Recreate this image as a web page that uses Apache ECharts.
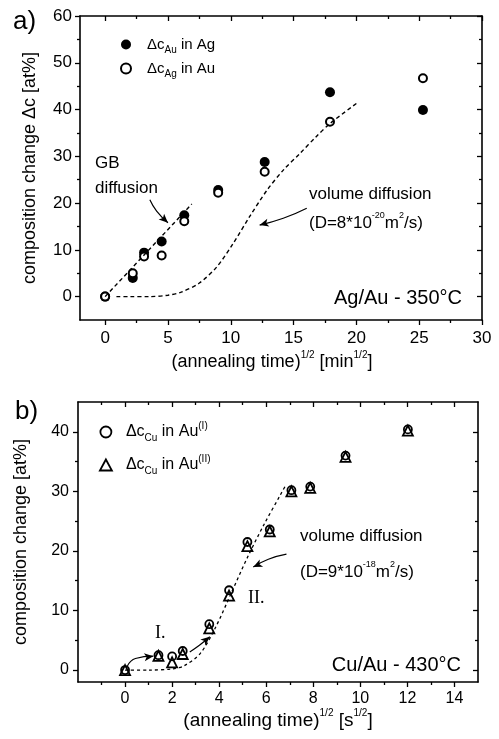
<!DOCTYPE html>
<html><head><meta charset="utf-8">
<script src="https://cdn.jsdelivr.net/npm/echarts@6/dist/echarts.min.js"></script>
<style>html,body{margin:0;padding:0;background:#fff}#c{width:499px;height:739px}</style>
</head><body><div id="c"></div>
<script>
// ---------- Panel a) Ag/Au - 350°C ----------
const aTime    = [0, 2.2, 3.1, 4.5, 6.3, 9.0, 12.7, 17.9, 25.3];
const aAuInAg  = [0, 4.0, 9.4, 11.8, 17.4, 22.8, 28.8, 43.7, 39.9];
const aAgInAu  = [0, 5.0, 8.6, 8.8, 16.1, 22.2, 26.7, 37.4, 46.7];
const aGBX     = [0, 6.9];
const aGBY     = [0, 19.8];
const aVolX    = [0.9, 2, 3.5, 5, 6, 7.5, 8.9, 10.2, 11.5, 12.9, 14.2, 15.5, 16.8, 17.9, 20.0];
const aVolY    = [0, 0, 0, 0.3, 0.9, 2.9, 6.4, 11.4, 17.1, 22.8, 27.1, 30.6, 34.2, 37.0, 41.3];
const aGBArrow  = [[3.56, 20.7], [4.1, 18.3], [5.0, 15.8]];
const aVolArrow = [[16.05, 18.9], [14.18, 16.75], [12.3, 15.3]];
const aXTicks = [0, 5, 10, 15, 20, 25, 30];
const aXMinor = [2.5, 7.5, 12.5, 17.5, 22.5, 27.5];
const aYTicks = [0, 10, 20, 30, 40, 50, 60];
const aYMinor = [5, 15, 25, 35, 45, 55];

// ---------- Panel b) Cu/Au - 430°C ----------
const bTime    = [0, 1.42, 2.0, 2.45, 3.58, 4.42, 5.2, 6.15, 7.07, 7.87, 9.37, 12.02];
const bCuAuI   = [0, 2.5, 2.3, 3.2, 7.7, 13.4, 21.5, 23.6, 30.2, 30.8, 36.0, 40.4];
const bCuAuII  = [0, 2.4, 1.3, 2.7, 7.0, 12.5, 20.8, 23.3, 30.0, 30.6, 35.8, 40.2];
const bVolX    = [0, 1, 2, 2.5, 3.2, 3.85, 4.5, 5.2, 5.9, 6.6, 6.85];
const bVolY    = [0, 0, 0.2, 0.7, 2.8, 7.2, 12.8, 18.9, 24.4, 29.4, 31.2];
const bArrowI1 = [[0.1, 0.7], [0.44, 1.95], [1.2, 2.33]];
const bArrowI2 = [[2.75, 3.05], [3.16, 4.17], [3.6, 5.6]];
const bVolArrow = [[6.86, 19.45], [6.09, 18.6], [5.45, 17.3]];
const bXTicks = [0, 2, 4, 6, 8, 10, 12, 14];
const bXMinor = [-1, 1, 3, 5, 7, 9, 11, 13];
const bYTicks = [0, 10, 20, 30, 40];
const bYMinor = [5, 15, 25, 35];

const FONT = "'Liberation Sans', Arial, Helvetica, sans-serif";
const BLACK = '#000';

function rich(size, small) {
  return {
    m: {fontFamily: FONT, fontSize: size, lineHeight: size + 6, color: BLACK},
    s: {fontFamily: FONT, fontSize: small, lineHeight: small + 1, verticalAlign: 'top', color: BLACK},
    b: {fontFamily: FONT, fontSize: small, lineHeight: small + 1, verticalAlign: 'bottom', color: BLACK}
  };
}

function makeAxes(kind, gi, min, max, major, minor, labelOpt, nameOpt) {
  const posMain = kind === 'x' ? 'bottom' : 'left';
  const posOpp = kind === 'x' ? 'top' : 'right';
  const base = {type: 'value', gridIndex: gi, min: min, max: max, splitLine: {show: false}};
  const tickStyle = {color: BLACK, width: 1.3};
  const lineStyle = {color: BLACK, width: 1.6};
  return [
    Object.assign({}, base, nameOpt, {
      position: posMain,
      axisLine: {show: true, onZero: false, lineStyle: lineStyle},
      axisTick: {show: true, inside: false, length: 5, customValues: major, lineStyle: tickStyle},
      axisLabel: Object.assign({show: true, customValues: major, color: BLACK, fontFamily: FONT}, labelOpt)
    }),
    Object.assign({}, base, {
      position: posMain,
      axisLine: {show: false, onZero: false},
      axisTick: {show: true, inside: false, length: 3, customValues: minor, lineStyle: tickStyle},
      axisLabel: {show: false}
    }),
    Object.assign({}, base, {
      position: posOpp,
      axisLine: {show: true, onZero: false, lineStyle: lineStyle},
      axisTick: {show: true, inside: true, length: 5, customValues: major, lineStyle: tickStyle},
      axisLabel: {show: false}
    }),
    Object.assign({}, base, {
      position: posOpp,
      axisLine: {show: false, onZero: false},
      axisTick: {show: true, inside: true, length: 3, customValues: minor, lineStyle: tickStyle},
      axisLabel: {show: false}
    })
  ];
}

const zip = (xs, ys) => xs.map((x, i) => [x, ys[i]]);

function arrowSeries(pts, xi, yi, rot) {
  return {
    type: 'line', xAxisIndex: xi, yAxisIndex: yi, smooth: 0.5,
    symbol: 'none', showSymbol: true, silent: true,
    lineStyle: {color: BLACK, width: 1.2},
    data: pts.map((p, i) => i === pts.length - 1
      ? {value: p, symbol: 'arrow', symbolSize: [6, 9], symbolRotate: rot, itemStyle: {color: BLACK, opacity: 1}}
      : {value: p})
  };
}

function txt(x, y, text, size, extra) {
  return {type: 'text', x: x, y: y, z: 100, silent: true,
    style: Object.assign({text: text, fontFamily: FONT, fontSize: size, fill: BLACK,
      align: 'left', verticalAlign: 'middle'}, extra || {})};
}

const names = {
  aAu: '{m|\u0394c}{b|Au}{m| in Ag}',
  aAg: '{m|\u0394c}{b|Ag}{m| in Au}',
  bI: '{m|\u0394c}{b|Cu}{m| in Au}{s|(I)}',
  bII: '{m|\u0394c}{b|Cu}{m| in Au}{s|(II)}'
};

const xA = makeAxes('x', 0, -2, 30, aXTicks, aXMinor, {fontSize: 17, margin: 10}, {
  name: '{m|(annealing time)}{s|1/2}{m| [min}{s|1/2}{m|]}', nameLocation: 'middle', nameGap: 30,
  nameTextStyle: {padding: [0, 18, 0, 0], rich: rich(18, 10)}
});
const yA = makeAxes('y', 0, -5, 60, aYTicks, aYMinor, {fontSize: 17, margin: 8}, {
  name: 'composition change \u0394c [at%]', nameLocation: 'middle', nameRotate: 90, nameGap: 41,
  nameTextStyle: {fontFamily: FONT, fontSize: 18, color: BLACK}
});
const xB = makeAxes('x', 1, -2, 15, bXTicks, bXMinor, {fontSize: 16, margin: 9}, {
  name: '{m|(annealing time)}{s|1/2}{m| [s}{s|1/2}{m|]}', nameLocation: 'middle', nameGap: 26,
  nameTextStyle: {rich: rich(19, 10)}
});
const yB = makeAxes('y', 1, -2, 45, bYTicks, bYMinor, {fontSize: 16, margin: 9}, {
  name: 'composition change [at%]', nameLocation: 'middle', nameRotate: 90, nameGap: 48,
  nameTextStyle: {fontFamily: FONT, fontSize: 18, color: BLACK}
});

const option = {
  animation: false,
  backgroundColor: '#fff',
  grid: [
    {left: 80, top: 16, width: 402, height: 304},
    {left: 78, top: 402, width: 400, height: 280}
  ],
  xAxis: xA.concat(xB),
  yAxis: yA.concat(yB),
  legend: [
    {
      orient: 'vertical', left: 115, top: 32, itemWidth: 10, itemHeight: 10, itemGap: 6,
      selectedMode: false,
      data: [
        {name: 'aAu', icon: 'circle', itemStyle: {color: BLACK, borderWidth: 0, opacity: 1}},
        {name: 'aAg', icon: 'circle', itemStyle: {color: '#fff', borderColor: BLACK, borderWidth: 2, opacity: 1}}
      ],
      formatter: n => names[n],
      textStyle: {padding: [0, 0, 0, 11], rich: rich(15, 10)}
    },
    {
      orient: 'vertical', left: 94, top: 416, itemWidth: 12, itemHeight: 11, itemGap: 11,
      selectedMode: false,
      data: [
        {name: 'bI', icon: 'circle', itemStyle: {color: 'rgba(0,0,0,0)', borderColor: BLACK, borderWidth: 1.8, opacity: 1}},
        {name: 'bII', icon: 'triangle', itemStyle: {color: 'rgba(0,0,0,0)', borderColor: BLACK, borderWidth: 1.8, opacity: 1}}
      ],
      formatter: n => names[n],
      textStyle: {padding: [0, 0, 0, 9], rich: rich(16, 10)}
    }
  ],
  series: [
    // panel a
    {type: 'line', xAxisIndex: 0, yAxisIndex: 0, data: zip(aGBX, aGBY), symbol: 'none', silent: true,
      lineStyle: {color: BLACK, width: 1.4, type: [4, 3]}},
    {type: 'line', xAxisIndex: 0, yAxisIndex: 0, data: zip(aVolX, aVolY), symbol: 'none', smooth: 0.3, silent: true,
      lineStyle: {color: BLACK, width: 1.4, type: [4, 3]}},
    arrowSeries(aGBArrow, 0, 0, -133),
    arrowSeries(aVolArrow, 0, 0, 105),
    {name: 'aAu', type: 'scatter', xAxisIndex: 0, yAxisIndex: 0, data: zip(aTime, aAuInAg),
      symbol: 'circle', symbolSize: 10, itemStyle: {color: BLACK, opacity: 1}},
    {name: 'aAg', type: 'scatter', xAxisIndex: 0, yAxisIndex: 0, data: zip(aTime, aAgInAu),
      symbol: 'circle', symbolSize: 8, itemStyle: {color: '#fff', borderColor: BLACK, borderWidth: 2, opacity: 1}},
    // panel b
    {type: 'line', xAxisIndex: 4, yAxisIndex: 4, data: zip(bVolX, bVolY), symbol: 'none', smooth: 0.3, silent: true,
      lineStyle: {color: BLACK, width: 1.3, type: [3, 3]}},
    arrowSeries(bArrowI1, 4, 4, -83),
    arrowSeries(bArrowI2, 4, 4, -50),
    arrowSeries(bVolArrow, 4, 4, 115),
    {name: 'bI', type: 'scatter', xAxisIndex: 4, yAxisIndex: 4, data: zip(bTime, bCuAuI),
      symbol: 'circle', symbolSize: 8, itemStyle: {color: 'rgba(0,0,0,0)', borderColor: BLACK, borderWidth: 1.8, opacity: 1}},
    {name: 'bII', type: 'scatter', xAxisIndex: 4, yAxisIndex: 4, data: zip(bTime, bCuAuII),
      symbol: 'triangle', symbolSize: 10, itemStyle: {color: 'rgba(0,0,0,0)', borderColor: BLACK, borderWidth: 1.8, opacity: 1}}
  ],
  graphic: [
    txt(13, 22, 'a)', 26),
    txt(95, 163, 'GB', 17),
    txt(95, 188, 'diffusion', 17),
    txt(309, 194, 'volume diffusion', 17),
    txt(309, 223, '{m|(D=8*10}{s|-20}{m|m}{s|2}{m|/s)}', 17, {rich: rich(17, 9)}),
    txt(462, 298, 'Ag/Au - 350\u00b0C', 20, {align: 'right'}),
    txt(15, 412, 'b)', 26),
    txt(155, 633, 'I.', 18, {fontFamily: "'Liberation Serif', 'Times New Roman', serif"}),
    txt(248, 598, 'II.', 18, {fontFamily: "'Liberation Serif', 'Times New Roman', serif"}),
    txt(300, 536, 'volume diffusion', 17),
    txt(300, 572, '{m|(D=9*10}{s|-18}{m|m}{s|2}{m|/s)}', 17, {rich: rich(17, 9)}),
    txt(461, 665, 'Cu/Au - 430\u00b0C', 20, {align: 'right'})
  ]
};

const chart = echarts.init(document.getElementById('c'), null, {renderer: 'canvas'});
chart.setOption(option);
</script>
</body></html>
